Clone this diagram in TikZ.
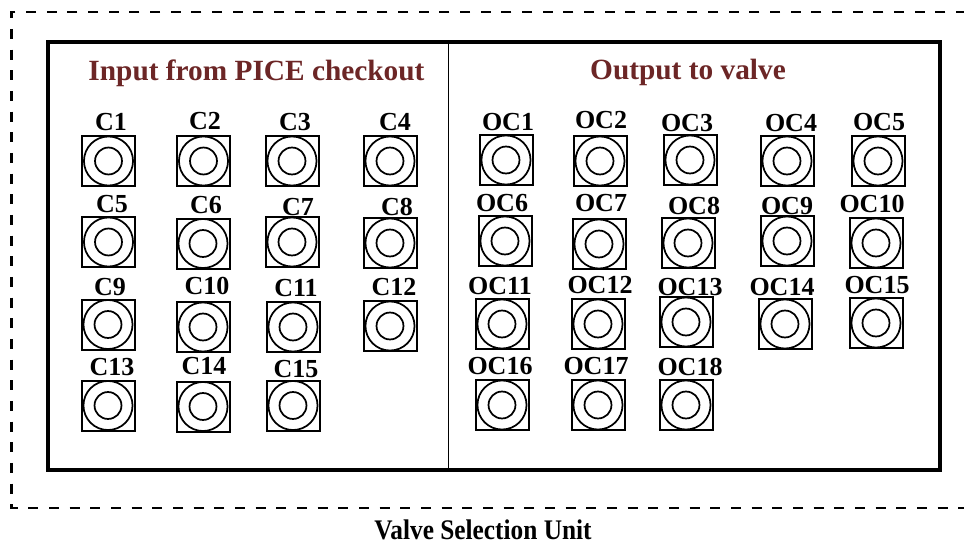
\documentclass[tikz,border=0pt]{standalone}
\usepackage{fontspec}
\setmainfont{Liberation Serif}
\definecolor{titlered}{RGB}{108,38,38}
\begin{document}
\begin{tikzpicture}[x=0.75pt,y=-0.75pt,
  jack/.style={draw,line width=1.5pt,rectangle,inner sep=0pt,
    minimum width=39.75pt,minimum height=37.5pt,
    path picture={
      \draw[line width=1.3pt] (path picture bounding box.center) circle (18.4pt);
      \draw[line width=1.3pt] (path picture bounding box.center) circle (10.1pt);
    }},
  jacklabel/.style={inner sep=0pt,font=\fontsize{19.5}{20}\selectfont\bfseries},
  paneltitle/.style={inner sep=0pt,anchor=base,text=titlered,
    font=\fontsize{22}{24}\selectfont\bfseries},
  unitcaption/.style={inner sep=0pt,anchor=base,
    font=\fontsize{19}{21}\selectfont\bfseries},
  outline/.style={line width=2.2pt,dash pattern=on 7.5pt off 8pt},
  panel/.style={line width=3pt},
  divider/.style={line width=1.1pt}]

% canvas
\fill[white] (0,0) rectangle (964,546);
\useasboundingbox (0,0) rectangle (964,546);

% dashed unit boundary (open towards the right edge)
\coordinate (ua) at (966,12);
\coordinate (ub) at (11.5,12);
\coordinate (uc) at (11.5,508);
\coordinate (ud) at (966,508);
\draw[outline] (ua) -- (ub) -- (uc) -- (ud);

% main panel and its divider
\coordinate (pa) at (48,42);
\coordinate (pb) at (939.5,470);
\draw[panel] (pa) rectangle (pb);
\coordinate (dtop) at (448.5,42);
\coordinate (dbot) at (448.5,470);
\draw[divider] (dtop) -- (dbot);

% panel titles
\node[paneltitle] (intitle) at (256.5,80) {Input from PICE checkout};
\node[paneltitle] (outtitle) at (688,79) {Output to valve};

% input connectors
\foreach \n/\bx/\by/\lx/\ly in {
  C1/108.5/161/111/122, C2/203.5/161/205/121, C3/292/161/295/122, C4/390/161/395/122,
  C5/108.5/242/112/204, C6/203/243.5/206/205, C7/292/242/298/207, C8/390/243/397/207,
  C9/108/324.5/110/287, C10/203/327/207/286, C11/293/327/296/288, C12/390/326/394/287,
  C13/108/405.5/112/367, C14/203/406.5/204/366, C15/293/405.5/296/369}{
  \node[jack] (\n) at (\bx,\by) {};
  \node[jacklabel] (\n-label) at (\lx,\ly) {\n};
}

% output connectors
\foreach \n/\bx/\by/\lx/\ly in {
  OC1/506/160/508/122, OC2/600/161/601/120, OC3/690/160/687/123, OC4/787/161/791/123, OC5/878/161/879/122,
  OC6/505/241/502/203, OC7/599/244/601/203, OC8/688/243/694/206, OC9/787/241/787/206, OC10/876/243/872/204,
  OC11/502/324/500/286, OC12/598/324/600/285, OC13/686/322/690/287, OC14/785/324/782/287, OC15/876/323/877/285,
  OC16/502/405/500/366, OC17/598/405/596/366, OC18/686/405/690/367}{
  \node[jack] (\n) at (\bx,\by) {};
  \node[jacklabel] (\n-label) at (\lx,\ly) {\n};
}

% caption
\node[unitcaption,yscale=1.12] (caption) at (483,539) {Valve Selection Unit};
\end{tikzpicture}
\end{document}
